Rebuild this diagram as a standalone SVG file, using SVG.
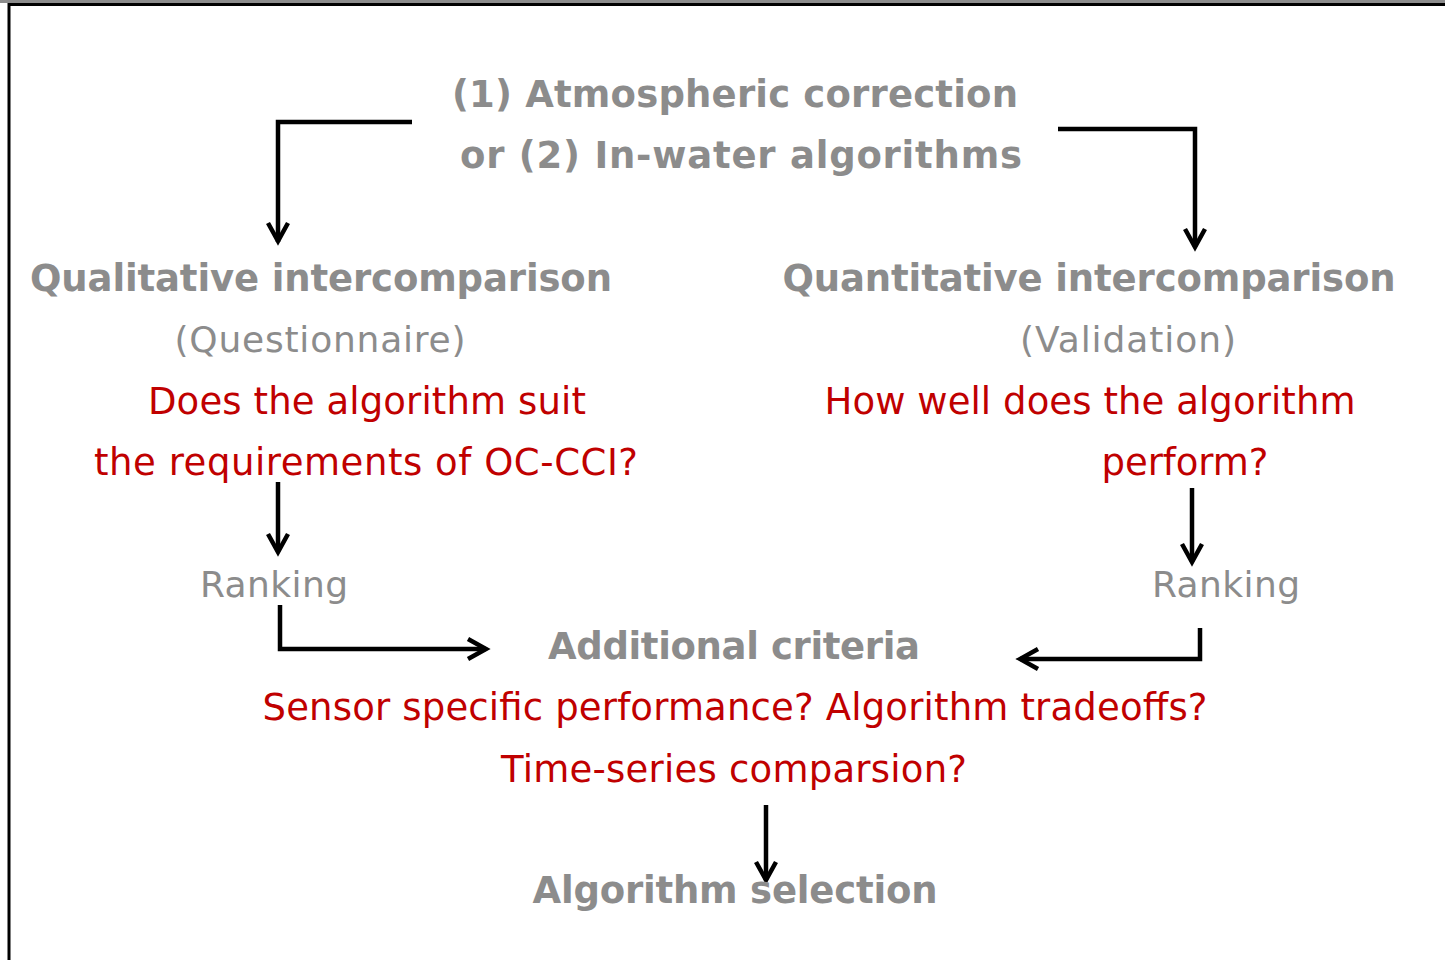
<svg xmlns="http://www.w3.org/2000/svg" width="1445" height="960" viewBox="0 0 1445 960">
<style>
text{font-family:"DejaVu Sans","Verdana",sans-serif;font-size:36px;text-anchor:middle}
.h{font-weight:bold;fill:#8c8c8c;font-size:37px}
.g{fill:#8c8c8c}
.r{fill:#c00000;font-size:37px}
.c{fill:none;stroke:#000;stroke-width:4.5}
</style>
<rect x="0" y="0" width="1445" height="960" fill="#fff"/>
<rect x="0" y="0" width="1445" height="3" fill="#8c8c8c"/>
<path d="M9,960 V4.5 H1445" fill="none" stroke="#000" stroke-width="3"/>
<g id="connectors">
<path class="c" d="M412,122 H278 V242"/>
<path class="c" d="M268,223 L278,241 L288,223"/>
<path class="c" d="M1058,129 H1195 V247"/>
<path class="c" d="M1185,229 L1195,247 L1205,229"/>
<path class="c" d="M278,482 V552"/>
<path class="c" d="M268,534 L278,552 L288,534"/>
<path class="c" d="M1192,488 V562"/>
<path class="c" d="M1182,544 L1192,562 L1202,544"/>
<path class="c" d="M280,605 V649 H486"/>
<path class="c" d="M468,639 L486,649 L468,659"/>
<path class="c" d="M1200,628 V659 H1020"/>
<path class="c" d="M1038,649 L1020,659 L1038,669"/>
<path class="c" d="M766,805 V880"/>
<path class="c" d="M756,862 L766,880 L776,862"/>
</g>
<g id="n_source"><text class="h" x="735" y="107" textLength="566" lengthAdjust="spacing">(1) Atmospheric correction</text><text class="h" x="741" y="168" textLength="562" lengthAdjust="spacing">or (2) In-water algorithms</text></g>
<g id="n_qual"><text class="h" x="321" y="291" textLength="582" lengthAdjust="spacing">Qualitative intercomparison</text><text class="g" x="320" y="352" textLength="291" lengthAdjust="spacing">(Questionnaire)</text><text class="r" x="367" y="414" textLength="438" lengthAdjust="spacing">Does the algorithm suit</text><text class="r" x="366" y="475" textLength="544" lengthAdjust="spacing">the requirements of OC-CCI?</text></g>
<g id="n_quant"><text class="h" x="1089" y="291" textLength="613" lengthAdjust="spacing">Quantitative intercomparison</text><text class="g" x="1128" y="352" textLength="216" lengthAdjust="spacing">(Validation)</text><text class="r" x="1090" y="414" textLength="531" lengthAdjust="spacing">How well does the algorithm</text><text class="r" x="1185" y="475" textLength="167" lengthAdjust="spacing">perform?</text></g>
<g id="n_rank_l"><text class="g" x="274" y="597" textLength="148" lengthAdjust="spacing">Ranking</text></g>
<g id="n_rank_r"><text class="g" x="1226" y="597" textLength="148" lengthAdjust="spacing">Ranking</text></g>
<g id="n_criteria"><text class="h" x="734" y="659" textLength="372" lengthAdjust="spacing">Additional criteria</text><text class="r" x="735" y="720" textLength="945" lengthAdjust="spacing">Sensor specific performance? Algorithm tradeoffs?</text><text class="r" x="734" y="782" textLength="466" lengthAdjust="spacing">Time-series comparsion?</text></g>
<g id="n_select"><text class="h" x="735" y="903" textLength="405" lengthAdjust="spacing">Algorithm selection</text></g>
</svg>
